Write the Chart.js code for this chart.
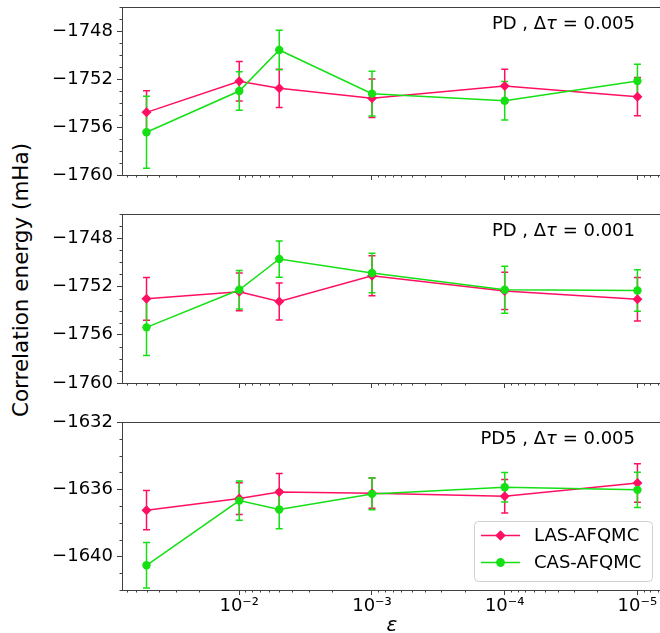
<!DOCTYPE html>
<html>
<head>
<meta charset="utf-8">
<script src="https://cdn.jsdelivr.net/npm/chart.js@4"></script>
<style>
  html, body { margin: 0; padding: 0; background: #fff; }
  body { width: 660px; height: 633px; overflow: hidden; position: relative; font-family: 'DejaVu Sans', sans-serif; }
  canvas { position: absolute; left: 0; }
  #ylab { position: absolute; left: 20px; top: 280px; transform: translate(-50%, -50%) rotate(-90deg);
          white-space: nowrap; font-size: 21.5px; color: #000; }
</style>
</head>
<body>
<div id="ylab">Correlation energy (mHa)</div>
<canvas id="c1" width="700" height="185" style="top:0px"></canvas>
<canvas id="c2" width="700" height="193" style="top:200px"></canvas>
<canvas id="c3" width="700" height="240" style="top:405px"></canvas>
<script>
var eps = [5e-2, 1e-2, 5e-3, 1e-3, 1e-4, 1e-5];
var xTicks = [1e-2, 1e-3, 1e-4, 1e-5];
var seriesNames = ['LAS-AFQMC', 'CAS-AFQMC'];

// PD, dt = 0.005
var las1 = [-1754.78, -1752.19, -1752.78, -1753.61, -1752.58, -1753.47];
var lasErr1 = [1.8, 1.64, 1.6, 1.6, 1.4, 1.6];
var cas1 = [-1756.44, -1753.0, -1749.58, -1753.22, -1753.81, -1752.17];
var casErr1 = [3.0, 1.6, 1.64, 1.86, 1.6, 1.4];
var yTicks1 = [-1760, -1756, -1752, -1748];

// PD, dt = 0.001
var las2 = [-1753.03, -1752.45, -1753.25, -1751.12, -1752.37, -1753.06];
var lasErr2 = [1.78, 1.57, 1.53, 1.66, 1.55, 1.8];
var cas2 = [-1755.39, -1752.28, -1749.73, -1750.89, -1752.28, -1752.33];
var casErr2 = [2.33, 1.6, 1.5, 1.63, 1.95, 1.72];
var yTicks2 = [-1760, -1756, -1752, -1748];

// PD5, dt = 0.005
var las3 = [-1637.25, -1636.56, -1636.16, -1636.24, -1636.42, -1635.63];
var lasErr3 = [1.17, 0.95, 1.1, 0.9, 0.99, 1.15];
var cas3 = [-1640.53, -1636.68, -1637.21, -1636.28, -1635.88, -1636.04];
var casErr3 = [1.35, 1.17, 1.15, 0.94, 0.88, 1.05];
var yTicks3 = [-1640, -1636, -1632];

var panelLabels = ['PD , Δτ = 0.005', 'PD , Δτ = 0.001', 'PD5 , Δτ = 0.005'];

var PINK = '#ff0f64';
var GREEN = '#14e014';
var AXIS = '#404040';
var FONT = "'DejaVu Sans', sans-serif";

function sup(n) {
  var m = {'-': '⁻', '0': '⁰', '1': '¹', '2': '²', '3': '³', '4': '⁴', '5': '⁵', '6': '⁶', '7': '⁷', '8': '⁸', '9': '⁹'};
  return String(n).split('').map(function (c) { return m[c]; }).join('');
}

// error bars, extra ticks, top spine
var extras = {
  id: 'extras',
  beforeDatasetsDraw: function (chart) {
    var ctx = chart.ctx, y = chart.scales.y;
    chart.data.datasets.forEach(function (ds, i) {
      var meta = chart.getDatasetMeta(i);
      ctx.save();
      ctx.strokeStyle = ds.borderColor;
      ctx.lineWidth = 1.5;
      meta.data.forEach(function (pt, j) {
        var v = ds.data[j].y, e = ds.errors[j];
        var top = y.getPixelForValue(v + e), bot = y.getPixelForValue(v - e);
        ctx.beginPath();
        ctx.moveTo(pt.x, top); ctx.lineTo(pt.x, bot);
        ctx.moveTo(pt.x - 3.5, top); ctx.lineTo(pt.x + 3.5, top);
        ctx.moveTo(pt.x - 3.5, bot); ctx.lineTo(pt.x + 3.5, bot);
        ctx.stroke();
      });
      ctx.restore();
    });
  },
  afterDraw: function (chart) {
    var ctx = chart.ctx, a = chart.chartArea, x = chart.scales.x, y = chart.scales.y;
    ctx.save();
    ctx.strokeStyle = AXIS;
    ctx.lineWidth = 1;
    ctx.beginPath();
    ctx.moveTo(a.left, a.top + 0.5); ctx.lineTo(a.right, a.top + 0.5);
    ctx.moveTo(a.right - 0.5, a.top); ctx.lineTo(a.right - 0.5, a.bottom);
    // minor x ticks
    for (var e = -7; e <= 0; e++) {
      for (var k = 2; k <= 9; k++) {
        var v = k * Math.pow(10, e);
        if (v < x.min || v > x.max) continue;
        var px = Math.round(x.getPixelForValue(v)) + 0.5;
        ctx.moveTo(px, a.bottom); ctx.lineTo(px, a.bottom + 2.5);
      }
    }
    // minor y ticks
    var majors = y.ticks.map(function (t) { return t.value; });
    for (var v2 = Math.ceil(y.min); v2 <= y.max; v2++) {
      if (majors.indexOf(v2) >= 0) continue;
      var py = Math.round(y.getPixelForValue(v2)) + 0.5;
      ctx.moveTo(a.left - 2.5, py); ctx.lineTo(a.left, py);
    }
    ctx.stroke();

    // panel label, tau in italic
    var txt = chart.options.plugins.extras.label;
    var parts = txt.split('τ');
    var segs = [[parts[0], ''], ['τ', 'italic '], [parts[1], '']];
    var w = 0;
    segs.forEach(function (s) { ctx.font = s[1] + '18px ' + FONT; w += ctx.measureText(s[0]).width; });
    var cx = a.right - 27 - w, cy = a.top + 17;
    ctx.fillStyle = '#000';
    ctx.textBaseline = 'middle';
    ctx.textAlign = 'left';
    segs.forEach(function (s) {
      ctx.font = s[1] + '18px ' + FONT;
      ctx.fillText(s[0], cx, cy);
      cx += ctx.measureText(s[0]).width;
    });

    // legend box
    if (chart.options.plugins.extras.legend) {
      var bx = a.right - 188, by = a.bottom - 69, bw = 178, bh = 60;
      ctx.beginPath();
      ctx.roundRect(bx + 0.5, by + 0.5, bw, bh, 4);
      ctx.fillStyle = 'rgba(255,255,255,0.8)';
      ctx.fill();
      ctx.strokeStyle = '#d0d0d0';
      ctx.stroke();
      chart.data.datasets.forEach(function (ds, i) {
        var ly = by + 14.5 + 27 * i;
        ctx.strokeStyle = ds.borderColor;
        ctx.lineWidth = 1.5;
        ctx.beginPath();
        ctx.moveTo(bx + 7, ly); ctx.lineTo(bx + 46, ly);
        ctx.stroke();
        ctx.fillStyle = ds.borderColor;
        ctx.beginPath();
        Chart.helpers.drawPoint(ctx, {pointStyle: ds.pointStyle, radius: ds.pointRadius, borderWidth: 0}, bx + 26.5, ly);
        ctx.fill();
        ctx.fillStyle = '#000';
        ctx.font = '18px ' + FONT;
        ctx.textBaseline = 'middle';
        ctx.fillText(ds.label, bx + 60, ly + 1);
      });
    }
    ctx.restore();
  }
};

function pts(vals) {
  return vals.map(function (v, i) { return {x: eps[i], y: v}; });
}

function makePanel(id, las, lasErr, cas, casErr, yMin, yMax, yTicks, label, opt) {
  return new Chart(document.getElementById(id), {
    type: 'line',
    data: {
      datasets: [{
        label: seriesNames[0], data: pts(las), errors: lasErr,
        borderColor: PINK, backgroundColor: PINK, borderWidth: 1.5,
        pointStyle: 'rectRot', pointRadius: 5, pointBorderWidth: 0, tension: 0, order: 1
      }, {
        label: seriesNames[1], data: pts(cas), errors: casErr,
        borderColor: GREEN, backgroundColor: GREEN, borderWidth: 1.5,
        pointStyle: 'circle', pointRadius: 4.2, pointBorderWidth: 0, tension: 0, order: 0
      }]
    },
    options: {
      responsive: false,
      animation: false,
      events: [],
      layout: {padding: {top: opt.padTop, right: 38, left: 0, bottom: 0}},
      plugins: {
        legend: {display: false},
        tooltip: {enabled: false},
        extras: {label: label, legend: !!opt.legend}
      },
      scales: {
        x: {
          type: 'logarithmic', reverse: true, min: 6.53e-6, max: 0.0765,
          afterBuildTicks: function (s) { s.ticks = xTicks.map(function (v) { return {value: v}; }); },
          afterFit: function (s) { s.height = opt.xH; s.paddingLeft = 0; s.paddingRight = 0; },
          grid: {drawOnChartArea: false, tickLength: 5, color: AXIS},
          border: {color: AXIS, width: 1},
          ticks: {
            autoSkip: false, maxRotation: 0, padding: 1, color: '#000',
            font: {family: FONT, size: 18},
            callback: function (v) { return opt.xLabels ? '10' + sup(Math.round(Math.log10(v))) : ''; }
          },
          title: {display: !!opt.xLabels, text: 'ε', color: '#000',
                  font: {family: FONT, size: 20, style: 'italic'}, padding: {top: 0, bottom: 7}}
        },
        y: {
          min: yMin, max: yMax,
          afterBuildTicks: function (s) { s.ticks = yTicks.map(function (v) { return {value: v}; }); },
          afterFit: function (s) { s.width = 122; s.paddingTop = 0; s.paddingBottom = 0; },
          grid: {drawOnChartArea: false, tickLength: 5, color: AXIS},
          border: {color: AXIS, width: 1},
          ticks: {
            padding: 4, color: '#000', font: {family: FONT, size: 18},
            callback: function (v) { return (v < 0 ? '−' : '') + Math.abs(v); }
          }
        }
      }
    },
    plugins: [extras]
  });
}

makePanel('c1', las1, lasErr1, cas1, casErr1, -1760, -1746, yTicks1, panelLabels[0], {padTop: 7, xH: 10});
makePanel('c2', las2, lasErr2, cas2, casErr2, -1760, -1746, yTicks2, panelLabels[1], {padTop: 14, xH: 10});
makePanel('c3', las3, lasErr3, cas3, casErr3, -1642, -1632, yTicks3, panelLabels[2], {padTop: 17, xH: 55, xLabels: true, legend: true});
</script>
</body>
</html>
